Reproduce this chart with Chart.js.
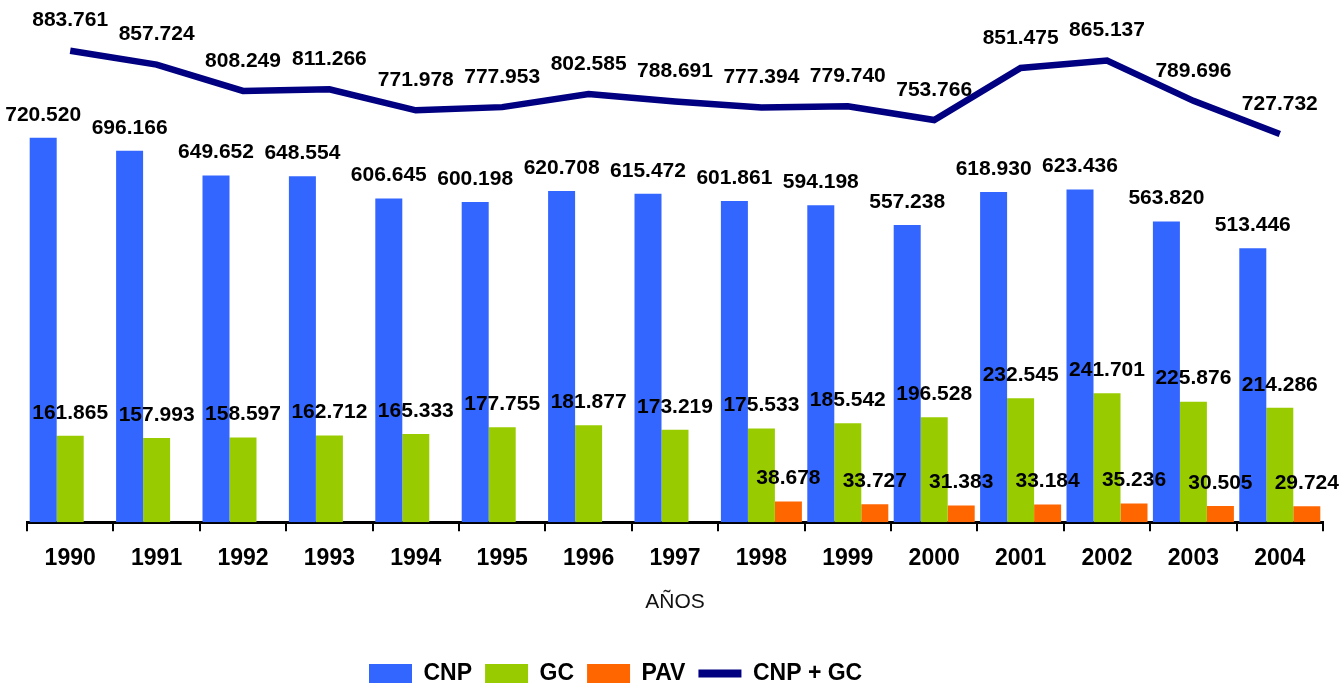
<!DOCTYPE html>
<html><head><meta charset="utf-8">
<script src="https://cdn.jsdelivr.net/npm/chart.js@4.4.1/dist/chart.umd.min.js"></script>
<style>
html,body{margin:0;padding:0;overflow:hidden;background:#fff;width:1340px;height:684px}
#wrap{position:relative;width:1340px;height:695px}
</style></head>
<body><div id="wrap"><canvas id="c"></canvas></div>
<script>
const years = ['1990','1991','1992','1993','1994','1995','1996','1997','1998','1999','2000','2001','2002','2003','2004'];
const cnp = [720.520, 696.166, 649.652, 648.554, 606.645, 600.198, 620.708, 615.472, 601.861, 594.198, 557.238, 618.930, 623.436, 563.820, 513.446];
const gc = [161.865, 157.993, 158.597, 162.712, 165.333, 177.755, 181.877, 173.219, 175.533, 185.542, 196.528, 232.545, 241.701, 225.876, 214.286];
const pav = [null, null, null, null, null, null, null, null, 38.678, 33.727, 31.383, 33.184, 35.236, 30.505, 29.724];
const cnpGc = [883.761, 857.724, 808.249, 811.266, 771.978, 777.953, 802.585, 788.691, 777.394, 779.740, 753.766, 851.475, 865.137, 789.696, 727.732];
const seriesNames = ['CNP', 'GC', 'PAV', 'CNP + GC'];
const axisTitle = 'AÑOS';

const FONT = '"Liberation Sans", Arial, Helvetica, sans-serif';
const colors = ['#3366FF', '#99CC00', '#FF6600', '#000080'];

const labelPlugin = {
  id: 'valueLabels',
  afterDatasetsDraw(chart) {
    const ctx = chart.ctx;
    ctx.save();
    ctx.font = 'bold 21px ' + FONT;
    ctx.fillStyle = '#000';
    ctx.textAlign = 'center';
    ctx.textBaseline = 'middle';
    const offsets = [23, 23, 23, 30];
    chart.data.datasets.forEach((ds, i) => {
      const meta = chart.getDatasetMeta(i);
      meta.data.forEach((el, j) => {
        const v = ds.data[j];
        if (v == null) return;
        ctx.fillText(v.toFixed(3), el.x, el.y - offsets[i]);
      });
    });
    ctx.restore();
  }
};

const legendShift = {
  id: 'legendShift',
  afterLayout(chart) {
    if (chart.legend) { chart.legend.left = 356; }
  }
};

new Chart(document.getElementById('c'), {
  data: {
    labels: years,
    datasets: [
      { type: 'bar', label: seriesNames[0], data: cnp, backgroundColor: colors[0], barPercentage: 1, categoryPercentage: 0.9375 },
      { type: 'bar', label: seriesNames[1], data: gc, backgroundColor: colors[1], barPercentage: 1, categoryPercentage: 0.9375 },
      { type: 'bar', label: seriesNames[2], data: pav, backgroundColor: colors[2], barPercentage: 1, categoryPercentage: 0.9375 },
      { type: 'line', label: seriesNames[3], data: cnpGc, borderColor: colors[3], backgroundColor: colors[3], borderWidth: 6.5, pointRadius: 0, tension: 0, fill: false, clip: false }
    ]
  },
  options: {
    responsive: true,
    maintainAspectRatio: false,
    devicePixelRatio: 1,
    animation: false,
    layout: { padding: { top: 2, left: 27, right: 17, bottom: 0 } },
    scales: {
      x: {
        grid: { display: true, drawOnChartArea: false, drawTicks: true, tickLength: 9, color: '#000', lineWidth: 2, offset: true },
        border: { display: true, color: '#000', width: 3 },
        ticks: { color: '#000', font: { family: FONT, size: 23, weight: 'bold' }, padding: 14, maxRotation: 0 },
        title: { display: true, text: axisTitle, color: '#111', font: { family: FONT, size: 21 }, padding: { top: 3, bottom: 34 } }
      },
      y: { display: false, min: 0, max: 975 }
    },
    plugins: {
      tooltip: { enabled: false },
      legend: {
        display: true,
        position: 'bottom',
        align: 'start',
        labels: {
          usePointStyle: true,
          pointStyleWidth: 43,
          boxHeight: 19,
          padding: 13,
          color: '#000',
          font: { family: FONT, size: 23, weight: 'bold' },
          generateLabels(chart) {
            return chart.data.datasets.map((ds, i) => {
              const isLine = ds.type === 'line';
              return {
                text: ds.label,
                fillStyle: isLine ? ds.borderColor : ds.backgroundColor,
                strokeStyle: isLine ? ds.borderColor : ds.backgroundColor,
                lineWidth: isLine ? 8 : 0,
                pointStyle: isLine ? 'line' : 'rect',
                hidden: false,
                datasetIndex: i,
                fontColor: '#000'
              };
            });
          }
        }
      }
    }
  },
  plugins: [labelPlugin, legendShift]
});
</script>
</body></html>
